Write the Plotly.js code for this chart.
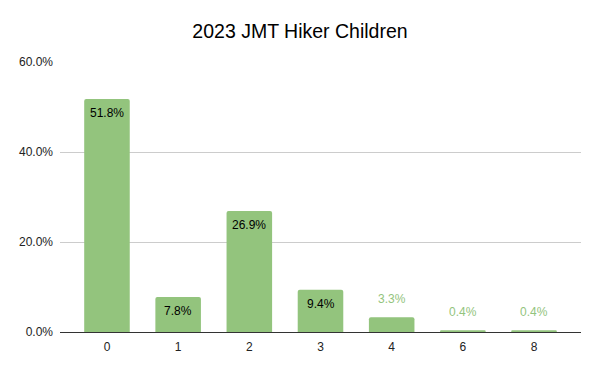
<!DOCTYPE html>
<html><head><meta charset="utf-8">
<script src="https://cdn.plot.ly/plotly-3.0.1.min.js"></script>
<style>html,body{margin:0;padding:0;background:#fff}#chart{width:600px;height:371px}</style>
</head><body><div id="chart"></div>
<script>
const categories = ["0", "1", "2", "3", "4", "6", "8"];
const shares = [51.8, 7.8, 26.9, 9.4, 3.3, 0.4, 0.4];
const tickVals = [0, 20, 40, 60];
const tickText = ["0.0%", "20.0%", "40.0%", "60.0%"];

const barColor = "#93c47d";
const insideThreshold = 5;
const fontFam = "Liberation Sans, Arial, sans-serif";

const labels = shares.map(v => v.toFixed(1) + "%");

const trace = {
  type: "bar",
  x: categories,
  y: shares,
  marker: { color: barColor, cornerradius: 2 },
  hoverinfo: "none"
};

const annotations = shares.map((v, i) => {
  const inside = v >= insideThreshold;
  return {
    x: i, y: v, xref: "x", yref: "y",
    text: labels[i], showarrow: false,
    yanchor: inside ? "top" : "bottom",
    yshift: inside ? -5 : 9,
    font: { family: fontFam, size: 12, color: inside ? "#000000" : barColor }
  };
});

const layout = {
  width: 600, height: 371,
  margin: { l: 60, r: 19, t: 62, b: 39 },
  paper_bgcolor: "#ffffff", plot_bgcolor: "#ffffff",
  title: { text: "2023 JMT Hiker Children", x: 0.5, xanchor: "center", y: 0.915, yanchor: "middle",
           font: { family: fontFam, size: 19.5, color: "#000000" } },
  bargap: 0.36,
  showlegend: false,
  xaxis: {
    type: "category", range: [-0.66, 6.66],
    showgrid: false, zeroline: false, showline: true, linecolor: "#333333", linewidth: 1,
    ticks: "", tickfont: { family: fontFam, size: 12, color: "#222222" },
    ticklabelstandoff: 4, fixedrange: true
  },
  yaxis: {
    range: [0, 60], tickmode: "array", tickvals: tickVals, ticktext: tickText,
    showgrid: true, gridcolor: "#cccccc", gridwidth: 1, zeroline: false, showline: false,
    ticks: "", tickfont: { family: fontFam, size: 12, color: "#222222" },
    ticklabelstandoff: 6, fixedrange: true
  },
  annotations: annotations
};

Plotly.newPlot("chart", [trace], layout, { displayModeBar: false, staticPlot: true });
</script>
</body></html>
